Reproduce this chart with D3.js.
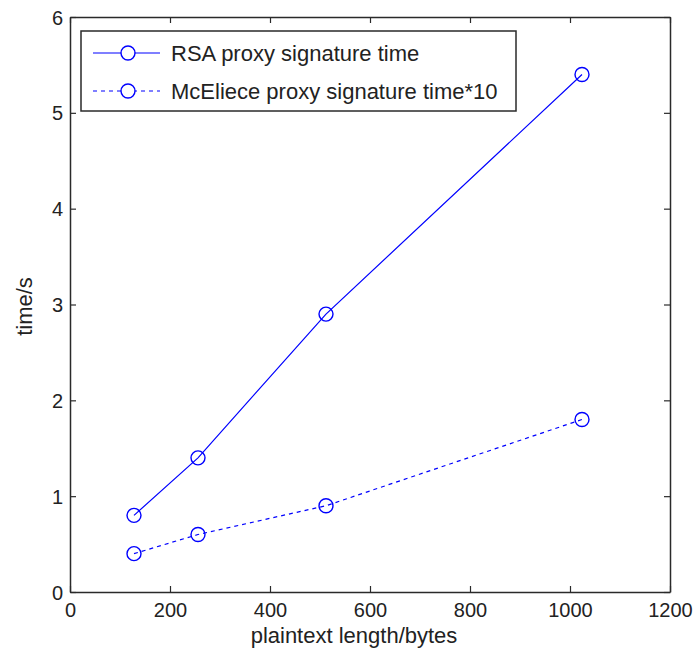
<!DOCTYPE html>
<html>
<head>
<meta charset="utf-8">
<script src="https://cdn.jsdelivr.net/npm/d3@7"></script>
<style>
  body { margin: 0; background: #fff; }
  text { font-family: "Liberation Sans", Arial, sans-serif; fill: #222; }
</style>
</head>
<body>
<div id="chart"></div>
<script>
// data
const lengths = [128, 256, 512, 1024];
const rsaTime = [0.8, 1.4, 2.9, 5.4];
const mceTime = [0.4, 0.6, 0.9, 1.8];
const xTicks = [0, 200, 400, 600, 800, 1000, 1200];
const yTicks = [0, 1, 2, 3, 4, 5, 6];
const seriesNames = ['RSA proxy signature time', 'McEliece proxy signature time*10'];

const width = 694, height = 650;
const margin = { top: 17, right: 24, bottom: 58, left: 70 };

const svg = d3.select('#chart')
    .append('svg')
    .attr('width', width)
    .attr('height', height);

const x = d3.scaleLinear().domain([0, 1200]).range([margin.left, width - margin.right]);
const y = d3.scaleLinear().domain([0, 6]).range([height - margin.bottom, margin.top]);

const axisColor = '#2a2a2a';
const fmt = d3.format('d');

// ticks pointing inward, on all four sides
const axisBottomG = svg.append('g')
    .attr('transform', `translate(0,${y(0)})`)
    .call(d3.axisBottom(x).tickValues(xTicks).tickFormat(fmt).tickSizeInner(-6).tickSizeOuter(0).tickPadding(11));
const axisTopG = svg.append('g')
    .attr('transform', `translate(0,${y(6)})`)
    .call(d3.axisTop(x).tickValues(xTicks).tickSizeInner(-6).tickSizeOuter(0).tickFormat(''));
const axisLeftG = svg.append('g')
    .attr('transform', `translate(${x(0)},0)`)
    .call(d3.axisLeft(y).tickValues(yTicks).tickFormat(fmt).tickSizeInner(-6).tickSizeOuter(0).tickPadding(7));
const axisRightG = svg.append('g')
    .attr('transform', `translate(${x(1200)},0)`)
    .call(d3.axisRight(y).tickValues(yTicks).tickSizeInner(-6).tickSizeOuter(0).tickFormat(''));

[axisBottomG, axisTopG, axisLeftG, axisRightG].forEach(g => {
    g.select('.domain').attr('stroke', axisColor).attr('stroke-width', 1.5);
    g.selectAll('.tick line').attr('stroke', axisColor).attr('stroke-width', 1.2);
    g.selectAll('.tick text')
        .style('font-size', '20px')
        .style('font-family', '"Liberation Sans", Arial, sans-serif')
        .style('fill', '#222');
});
axisLeftG.selectAll('.tick text').attr('dy', '0.35em');
axisBottomG.selectAll('.tick text').attr('dy', '0.71em');

// axis labels
svg.append('text')
    .attr('x', 354)
    .attr('y', 643)
    .attr('text-anchor', 'middle')
    .style('font-size', '22px')
    .text('plaintext length/bytes');

svg.append('text')
    .attr('transform', `translate(32,${(y(0) + y(6)) / 2 + 2}) rotate(-90)`)
    .attr('text-anchor', 'middle')
    .style('font-size', '22px')
    .text('time/s');

// lines and markers
const blue = '#0000ff';
const series = [
    { values: rsaTime, dash: null },
    { values: mceTime, dash: '4,4' }
];

const line = d3.line()
    .x((d, i) => x(lengths[i]))
    .y(d => y(d));

series.forEach(s => {
    svg.append('path')
        .datum(s.values)
        .attr('fill', 'none')
        .attr('stroke', blue)
        .attr('stroke-width', 1.2)
        .attr('stroke-dasharray', s.dash)
        .attr('d', line);

    svg.selectAll(null)
        .data(s.values)
        .join('circle')
        .attr('cx', (d, i) => x(lengths[i]))
        .attr('cy', d => y(d))
        .attr('r', 7)
        .attr('fill', 'none')
        .attr('stroke', blue)
        .attr('stroke-width', 1.4);
});

// legend
const legend = svg.append('g').attr('transform', 'translate(81,31)');
legend.append('rect')
    .attr('width', 435)
    .attr('height', 80)
    .attr('fill', '#fff')
    .attr('stroke', axisColor)
    .attr('stroke-width', 1.5);

seriesNames.forEach((name, i) => {
    const row = legend.append('g').attr('transform', `translate(0,${22 + i * 38})`);
    row.append('line')
        .attr('x1', 12).attr('x2', 79)
        .attr('stroke', blue)
        .attr('stroke-width', 1.2)
        .attr('stroke-dasharray', series[i].dash);
    row.append('circle')
        .attr('cx', 47)
        .attr('r', 7)
        .attr('fill', '#fff')
        .attr('stroke', blue)
        .attr('stroke-width', 1.4);
    row.append('text')
        .attr('x', 90)
        .attr('y', 8)
        .style('font-size', '22px')
        .text(name);
});
</script>
</body>
</html>
